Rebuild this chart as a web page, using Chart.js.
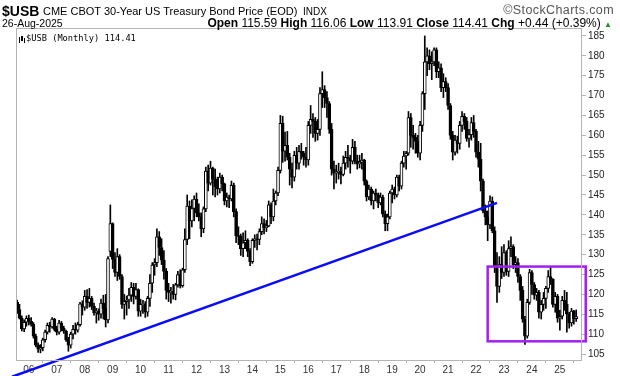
<!DOCTYPE html>
<html lang="en">
<head>
<meta charset="UTF-8">
<title>$USB Monthly</title>
<script src="https://cdn.jsdelivr.net/npm/chart.js"></script>
<style>
  body { margin: 0; background: #fff; font-family: 'Liberation Sans', Arial, sans-serif; }
  #wrap { position: relative; width: 620px; height: 376px; overflow: hidden; }
  #chart { position: absolute; left: 0; top: 0; }
  .hd { position: absolute; white-space: nowrap; color: #000; line-height: 1; }
</style>
</head>
<body>
<div id="wrap">
  <canvas id="chart" width="620" height="376"></canvas>
  <div class="hd" style="left:2px;top:4px;font-size:14px;font-weight:bold">$USB</div>
  <div class="hd" style="left:43px;top:6px;font-size:11px">CME CBOT 30-Year US Treasury Bond Price (EOD)</div>
  <div class="hd" style="left:303px;top:7px;font-size:10px">INDX</div>
  <div class="hd" style="right:6px;top:4px;font-size:12.5px;letter-spacing:0.4px;color:#555">&copy;StockCharts.com</div>
  <div class="hd" style="left:2px;top:18px;font-size:10.5px">26-Aug-2025</div>
  <div class="hd" style="right:8px;top:17px;font-size:12px"><b>Open</b> 115.59 <b>High</b> 116.06 <b>Low</b> 113.91 <b>Close</b> 114.41 <b>Chg</b> +0.44 (+0.39%) <span style="color:#2a8a2a;font-size:8px">&#9650;</span></div>
  <div class="hd" style="left:26px;top:34px;font-size:8.7px;font-family:'DejaVu Sans Mono',monospace">$USB (Monthly) 114.41</div>
</div>

<script>
  // monthly bars, [open, high, low, close]
  const y2005 = [ // Aug - Dec
    [118.0, 118.6, 115.2, 116.2], [116.2, 117.5, 113.8, 114.0], [114.0, 114.6, 110.8, 111.3],
    [111.3, 113.6, 110.6, 113.0], [113.0, 114.6, 112.0, 114.0]];
  const y2006 = [
    [114.0, 114.8, 112.3, 113.2], [113.2, 114.2, 112.0, 112.5], [112.5, 112.9, 109.0, 109.5],
    [109.5, 110.0, 106.8, 107.2], [107.2, 107.8, 105.4, 106.2], [106.2, 107.4, 105.3, 106.6],
    [106.6, 109.0, 105.8, 108.6], [108.6, 111.0, 108.0, 110.5], [110.5, 112.8, 110.0, 112.2],
    [112.2, 113.0, 110.5, 111.8], [111.8, 114.2, 111.5, 113.8], [113.8, 114.0, 110.8, 111.2]];
  const y2007 = [
    [111.2, 112.0, 109.8, 110.5], [110.5, 113.5, 110.0, 112.8], [112.8, 113.2, 110.8, 111.5],
    [111.5, 112.0, 110.2, 110.8], [110.8, 111.0, 108.2, 108.6], [108.6, 109.2, 105.7, 107.2],
    [107.2, 110.5, 106.5, 110.0], [110.0, 112.2, 108.8, 111.2], [111.2, 112.8, 110.0, 111.0],
    [111.0, 113.0, 110.5, 112.4], [112.4, 118.0, 112.0, 117.6], [117.6, 118.4, 114.8, 116.8]];
  const y2008 = [
    [116.8, 121.0, 116.0, 119.5], [119.5, 121.2, 116.5, 118.0], [118.0, 121.5, 116.8, 119.0],
    [119.0, 119.5, 116.2, 117.0], [117.0, 117.8, 114.8, 115.4], [115.4, 116.5, 112.8, 115.8],
    [115.8, 116.4, 113.5, 115.0], [115.0, 118.8, 114.0, 117.8], [117.8, 119.8, 113.8, 116.5],
    [116.5, 120.0, 111.8, 113.6], [113.6, 129.5, 112.8, 129.0], [130.8, 142.5, 129.5, 137.8]];
  const y2009 = [
    [137.8, 138.0, 126.5, 128.8], [128.8, 130.5, 124.5, 125.5], [125.5, 131.5, 123.5, 129.5],
    [129.5, 130.0, 123.8, 124.5], [124.5, 125.0, 116.5, 117.5], [117.5, 120.0, 113.8, 118.2],
    [118.2, 119.6, 114.8, 118.6], [118.6, 121.5, 116.5, 119.8], [119.8, 123.0, 118.2, 121.8],
    [121.8, 122.8, 117.6, 119.5], [119.5, 122.8, 118.8, 121.2], [121.2, 121.4, 114.5, 115.8]];
  const y2010 = [
    [115.8, 118.8, 114.5, 117.5], [117.5, 118.5, 115.2, 117.6], [117.6, 118.2, 114.2, 115.5],
    [115.5, 119.5, 114.5, 119.0], [119.0, 125.0, 117.0, 122.8], [122.8, 128.0, 120.5, 127.4],
    [127.4, 129.0, 124.8, 128.0], [128.0, 136.5, 127.0, 134.5], [134.5, 135.8, 129.8, 131.8],
    [131.8, 134.0, 127.5, 128.6], [128.6, 131.0, 123.8, 125.8], [125.8, 126.5, 118.8, 121.0]];
  const y2011 = [
    [121.0, 122.8, 118.2, 120.5], [120.5, 121.8, 117.8, 120.8], [120.8, 122.5, 118.8, 120.0],
    [120.0, 122.8, 118.6, 122.4], [122.4, 125.8, 121.8, 125.0], [125.0, 126.2, 121.6, 122.2],
    [122.2, 126.6, 121.8, 126.2], [126.2, 136.5, 125.5, 133.8], [133.8, 145.0, 132.5, 142.2],
    [142.2, 143.5, 134.0, 138.5], [138.5, 143.8, 137.0, 141.6], [141.6, 144.8, 138.5, 144.0]];
  const y2012 = [
    [144.0, 145.5, 139.5, 140.5], [140.5, 142.8, 138.5, 139.5], [139.5, 140.5, 134.5, 136.5],
    [136.5, 142.0, 135.5, 141.5], [141.5, 152.0, 140.8, 151.0], [151.0, 152.5, 146.0, 148.0],
    [148.0, 153.5, 147.5, 151.8], [151.8, 152.0, 145.0, 149.0], [149.0, 151.5, 144.5, 147.0],
    [147.0, 149.5, 145.0, 146.5], [146.5, 150.5, 145.5, 149.5], [149.5, 150.0, 146.0, 147.8]];
  const y2013 = [
    [147.8, 148.0, 142.5, 143.5], [143.5, 145.5, 142.0, 144.5], [144.5, 145.0, 141.8, 144.0],
    [144.0, 148.5, 143.5, 147.4], [147.4, 148.0, 139.5, 140.8], [140.8, 141.5, 133.0, 134.8],
    [134.8, 137.0, 132.5, 134.6], [134.6, 135.2, 129.8, 131.5], [131.5, 135.5, 129.5, 133.0],
    [133.0, 136.0, 131.5, 133.6], [133.6, 134.0, 129.5, 130.8], [130.8, 131.5, 127.2, 128.2]];
  const y2014 = [
    [128.2, 134.0, 127.8, 133.6], [133.6, 135.0, 131.8, 134.0], [134.0, 135.2, 131.2, 133.8],
    [133.8, 136.5, 132.5, 135.8], [135.8, 139.5, 135.0, 137.8], [137.8, 139.0, 135.2, 136.8],
    [136.8, 138.6, 135.8, 137.2], [137.2, 143.5, 137.0, 142.5], [142.5, 143.0, 137.8, 139.5],
    [139.5, 146.5, 138.5, 143.5], [143.5, 146.0, 142.5, 145.5], [145.5, 152.0, 144.8, 151.2]];
  const y2015 = [
    [151.2, 165.0, 150.5, 163.0], [163.0, 164.8, 153.2, 156.0], [156.0, 160.8, 153.5, 157.5],
    [157.5, 161.0, 153.8, 154.5], [154.5, 155.5, 147.5, 151.5], [151.5, 153.0, 146.8, 149.5],
    [149.5, 156.0, 148.5, 155.0], [155.0, 157.0, 151.5, 153.0], [153.0, 157.5, 151.5, 156.0],
    [156.0, 158.0, 154.0, 155.5], [155.5, 156.0, 152.5, 154.5], [154.5, 157.0, 152.0, 153.8]];
  const y2016 = [
    [153.8, 163.5, 152.5, 162.5], [162.5, 167.5, 160.5, 164.0], [164.0, 165.5, 159.5, 163.5],
    [163.5, 164.5, 158.5, 160.5], [160.5, 164.0, 158.8, 161.5], [161.5, 172.0, 160.0, 170.5],
    [170.5, 176.0, 167.0, 171.5], [171.5, 172.5, 167.0, 169.5], [169.5, 171.0, 164.5, 168.0],
    [168.0, 168.5, 160.5, 161.5], [161.5, 163.0, 150.0, 151.5], [151.5, 153.5, 146.5, 150.5]];
  const y2017 = [
    [150.5, 152.5, 148.0, 150.8], [150.8, 153.0, 149.0, 151.0], [151.0, 152.0, 147.8, 150.2],
    [150.2, 154.8, 149.8, 153.0], [153.0, 156.0, 151.5, 154.5], [154.5, 157.5, 152.0, 154.2],
    [154.2, 155.0, 150.5, 153.5], [153.5, 159.0, 152.8, 157.0], [157.0, 158.5, 152.8, 153.5],
    [153.5, 155.0, 151.5, 152.8], [152.8, 155.0, 151.8, 153.2], [153.2, 155.5, 151.5, 153.8]];
  const y2018 = [
    [153.8, 154.0, 147.5, 148.5], [148.5, 148.8, 143.5, 144.5], [144.5, 147.5, 143.8, 146.5],
    [146.5, 147.0, 142.5, 143.5], [143.5, 146.0, 141.5, 145.5], [145.5, 146.5, 143.5, 145.0],
    [145.0, 145.5, 141.8, 143.0], [143.0, 145.5, 142.5, 144.5], [144.5, 145.0, 139.5, 140.2],
    [140.2, 141.0, 136.0, 137.8], [137.8, 140.2, 136.0, 139.5], [139.5, 146.0, 139.0, 145.5]];
  const y2019 = [
    [145.5, 147.5, 143.0, 146.5], [146.5, 147.0, 144.0, 145.0], [145.0, 150.0, 144.5, 149.5],
    [149.5, 150.0, 146.0, 147.2], [147.2, 153.5, 146.5, 153.0], [153.0, 156.0, 152.0, 154.8],
    [154.8, 156.0, 151.5, 155.5], [155.5, 166.0, 155.0, 164.5], [164.5, 165.5, 157.0, 160.0],
    [160.0, 162.5, 156.5, 159.5], [159.5, 160.5, 155.5, 158.5], [158.5, 160.0, 154.5, 155.5]];
  const y2020 = [
    [155.5, 163.5, 153.8, 162.5], [162.5, 171.0, 161.0, 170.5], [170.5, 185.0, 166.5, 178.5],
    [178.5, 182.0, 175.0, 180.0], [180.0, 181.5, 176.5, 178.0], [178.0, 181.0, 174.0, 178.5],
    [178.5, 182.0, 177.5, 181.5], [181.5, 182.0, 174.5, 176.0], [176.0, 178.5, 174.5, 177.0],
    [177.0, 178.0, 171.0, 172.0], [172.0, 175.5, 169.5, 173.5], [173.5, 174.5, 171.0, 172.0]];
  const y2021 = [
    [172.0, 173.0, 166.5, 167.5], [167.5, 168.0, 159.0, 160.0], [160.0, 161.0, 153.8, 155.8],
    [155.8, 160.0, 155.0, 158.8], [158.8, 159.8, 155.5, 158.0], [158.0, 163.5, 156.5, 162.5],
    [162.5, 166.0, 161.0, 164.8], [164.8, 165.5, 161.5, 163.5], [163.5, 164.5, 158.5, 159.2],
    [159.2, 161.5, 157.0, 160.2], [160.2, 164.5, 158.8, 163.2], [163.2, 165.0, 159.5, 161.0]];
  const y2022 = [
    [161.0, 161.5, 154.5, 155.8], [155.8, 158.5, 152.0, 154.0], [154.0, 158.0, 146.0, 148.5],
    [148.5, 149.0, 140.5, 141.0], [141.0, 142.5, 137.5, 139.5], [139.5, 141.0, 133.5, 137.5],
    [137.5, 144.8, 136.5, 143.5], [143.5, 144.5, 135.5, 136.0], [136.0, 137.0, 125.5, 127.0],
    [127.0, 130.5, 118.0, 122.0], [122.0, 129.5, 120.5, 127.5], [127.5, 132.0, 124.0, 125.5]];
  const y2023 = [
    [125.5, 132.5, 124.5, 130.5], [130.5, 131.0, 124.8, 125.8], [125.8, 133.5, 124.5, 131.5],
    [131.5, 134.5, 129.5, 132.0], [132.0, 132.5, 126.5, 127.5], [127.5, 129.5, 125.5, 128.0],
    [128.0, 129.0, 123.0, 124.5], [124.5, 125.0, 118.5, 121.0], [121.0, 122.0, 113.0, 113.8],
    [113.8, 114.5, 107.4, 109.5], [109.5, 118.8, 109.0, 118.0], [118.0, 126.3, 117.5, 125.5]];
  const y2024 = [
    [125.5, 126.0, 120.0, 122.5], [122.5, 123.0, 118.8, 119.8], [119.8, 121.5, 118.5, 120.5],
    [120.5, 121.0, 114.0, 115.5], [115.5, 118.5, 113.8, 117.5], [117.5, 120.5, 116.0, 119.0],
    [119.0, 122.0, 116.5, 121.5], [121.5, 126.0, 120.5, 124.5], [124.5, 127.0, 122.5, 123.8],
    [123.8, 124.0, 116.8, 117.5], [117.5, 120.5, 115.5, 119.5], [119.5, 120.0, 113.0, 114.0]];
  const y2025 = [ // Jan - Aug
    [114.0, 116.0, 111.0, 114.5], [114.5, 119.5, 113.8, 118.5], [118.5, 121.0, 116.0, 117.5],
    [117.5, 120.5, 110.5, 115.0], [115.0, 115.5, 111.5, 112.8], [112.8, 116.5, 112.0, 115.8],
    [115.8, 116.0, 112.5, 113.9], [113.9, 116.1, 113.2, 114.41]];

  const yearTicks = ['06', '07', '08', '09', '10', '11', '12', '13', '14', '15',
                     '16', '17', '18', '19', '20', '21', '22', '23', '24', '25'];
  const yTicks = [105, 110, 115, 120, 125, 130, 135, 140, 145, 150, 155, 160, 165, 170, 175, 180, 185];

  // trend line and box, in month index / price units
  const trendX = [-2.2, 206.0];
  const trendY = [99.3, 143.0];
  const boxX = [202.0, 244.1];
  const boxY = [108.2, 127.0];

  const startYear = 2005, startMonth = 7; // August 2005
  const padMonths = 2;

  const bars = [].concat(y2005, y2006, y2007, y2008, y2009, y2010, y2011, y2012, y2013, y2014,
    y2015, y2016, y2017, y2018, y2019, y2020, y2021, y2022, y2023, y2024, y2025);

  const monthLabels = [];
  for (let i = 0; i < bars.length + padMonths; i++) {
    const k = startMonth + i;
    monthLabels.push({ year: startYear + Math.floor(k / 12), month: k % 12 });
  }

  const wicks = bars.map(b => [b[2], b[1]]);
  const bodies = bars.map(b => [b[0], b[3]]);
  const bodyFill = bars.map(b => b[3] > b[0] ? '#ffffff' : '#000000');

  const frame = {
    id: 'frame',
    afterDatasetsDraw(chart) {
      const { ctx, chartArea: a, scales } = chart;
      ctx.save();
      // purple box
      const xl = scales.xl, y = scales.y;
      ctx.strokeStyle = '#a020f0';
      ctx.lineWidth = 2.5;
      const x0 = xl.getPixelForValue(boxX[0]), x1 = xl.getPixelForValue(boxX[1]);
      const y0 = y.getPixelForValue(boxY[1]), y1 = y.getPixelForValue(boxY[0]);
      ctx.strokeRect(x0, y0, x1 - x0, y1 - y0);
      // plot frame
      ctx.strokeStyle = '#b4b4b4';
      ctx.lineWidth = 1;
      ctx.strokeRect(a.left + 0.5, a.top + 0.5, a.right - a.left - 1, a.bottom - a.top);
      // legend glyph
      ctx.fillStyle = '#000';
      ctx.fillRect(19, 37, 1, 6);
      ctx.fillRect(21, 36, 2, 5);
      ctx.fillRect(24, 38, 1, 5);
      ctx.restore();
    }
  };

  new Chart(document.getElementById('chart'), {
    type: 'bar',
    data: {
      labels: monthLabels.map(m => m.year + '-' + (m.month + 1)),
      datasets: [
        {
          type: 'line',
          xAxisID: 'xl',
          data: trendX.map((x, i) => ({ x, y: trendY[i] })),
          borderColor: '#0a0aff',
          borderWidth: 2.5,
          pointRadius: 0,
          clip: false,
          order: 0
        },
        {
          data: bodies,
          backgroundColor: bodyFill,
          borderColor: '#000',
          borderWidth: 1,
          borderSkipped: false,
          barThickness: 3,
          grouped: false,
          order: 1
        },
        {
          data: wicks,
          backgroundColor: '#000',
          borderWidth: 0,
          barThickness: 1,
          grouped: false,
          order: 2
        }
      ]
    },
    options: {
      responsive: false,
      animation: false,
      layout: { padding: { left: 16, top: 28, right: 0, bottom: 0 } },
      plugins: { legend: { display: false }, tooltip: { enabled: false } },
      scales: {
        x: {
          type: 'category',
          offset: true,
          border: { display: false },
          grid: { drawOnChartArea: false, tickLength: 3, color: '#b4b4b4' },
          ticks: {
            autoSkip: false,
            maxRotation: 0,
            padding: 1,
            color: '#333',
            font: { family: 'Liberation Sans', size: 10 },
            callback: (v, i) => {
              const m = monthLabels[i];
              return m.month === 0 ? yearTicks[m.year - 2006] : null;
            }
          },
          afterFit: s => { s.height = 16; }
        },
        xl: {
          type: 'linear',
          position: 'top',
          offset: false,
          bounds: 'data',
          min: -0.5,
          max: bars.length + padMonths - 0.5,
          border: { display: false },
          grid: { display: false, drawTicks: false },
          ticks: { display: false },
          afterFit: s => { s.height = 0; }
        },
        y: {
          position: 'right',
          min: 103.5,
          max: 187.0,
          border: { display: false },
          grid: { drawOnChartArea: false, tickLength: 4, color: '#b4b4b4' },
          ticks: { padding: 2, color: '#222', font: { family: 'Liberation Sans', size: 10 } },
          afterBuildTicks: s => { s.ticks = yTicks.map(v => ({ value: v })); },
          afterFit: s => { s.width = 38; }
        }
      }
    },
    plugins: [frame]
  });
</script>
</body>
</html>
